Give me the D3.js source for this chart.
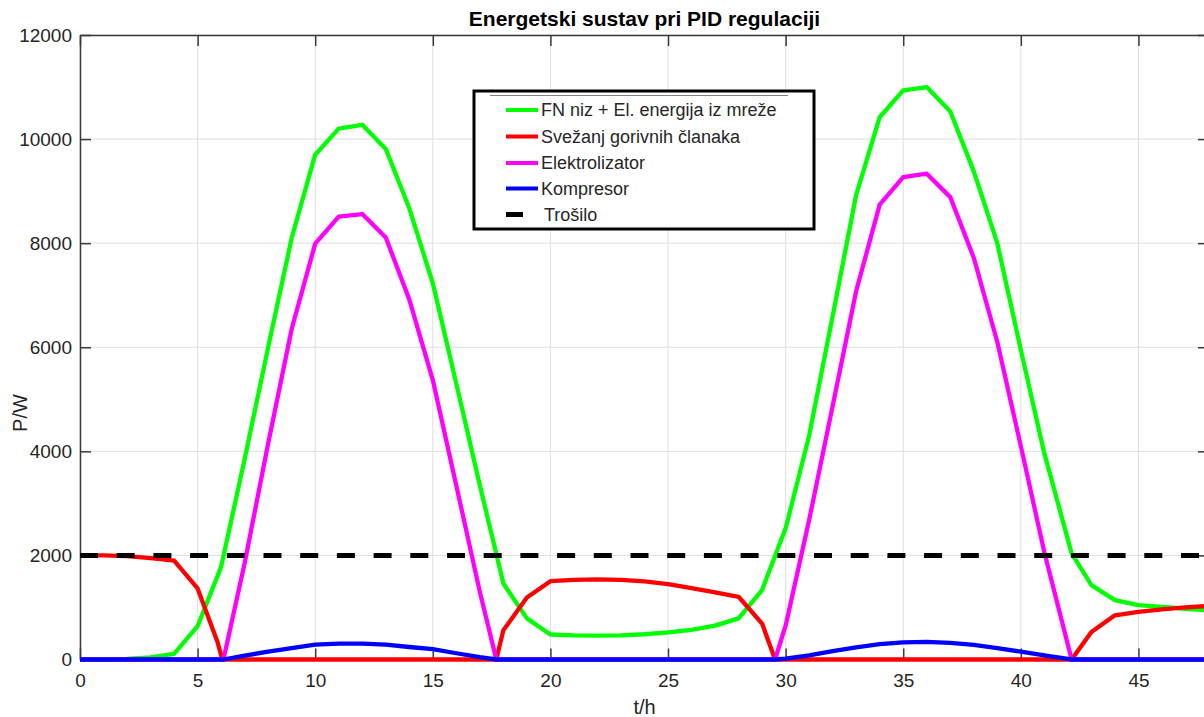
<!DOCTYPE html>
<html>
<head>
<meta charset="utf-8">
<script src="https://cdn.jsdelivr.net/npm/d3@7"></script>
<style>
  html, body { margin: 0; padding: 0; background: #fff; }
  svg { display: block; font-family: "Liberation Sans", Arial, sans-serif; }
</style>
</head>
<body>
<svg id="chart" width="1204" height="717"></svg>
<script>
// ---- data ----
const chartTitle = "Energetski sustav pri PID regulaciji";
const xLabel = "t/h";
const yLabel = "P/W";
const xTicks = [0, 5, 10, 15, 20, 25, 30, 35, 40, 45];
const yTicks = [0, 2000, 4000, 6000, 8000, 10000, 12000];
const seriesNames = ["FN niz + El. energija iz mreže", "Svežanj gorivnih članaka", "Elektrolizator", "Kompresor", "Trošilo"];

const tGreen = [0,1,2,3,4,5,6,7,8,9,10,11,12,13,14,15,16,17,18,19,20,21,22,23,24,25,26,27,28,29,30,31,32,33,34,35,36,37,38,39,40,41,42.16,43,44,45,46,47,48];
const vGreen = [0,0,10,40,110,640,1780,3850,6000,8100,9700,10200,10275,9810,8670,7230,5300,3350,1460,790,480,462,458,465,485,520,570,650,790,1335,2520,4300,6600,8930,10420,10935,11000,10530,9380,8000,5950,3960,2040,1430,1140,1045,1010,975,945];

const tRed = [0,1,2,3,4,5,5.85,6.05,17.7,18,19,20,21,22,23,24,25,26,27,28,29,29.55,42.16,43,44,45,46,47,48];
const vRed = [2000,2000,1985,1950,1900,1365,330,0,0,560,1190,1505,1530,1538,1530,1500,1450,1370,1290,1205,690,0,0,530,850,915,965,1000,1030];

const tMagenta = [0,6.1,7,8,9,10,11,12,13,14,15,16,17,17.7,29.55,30,31,32,33,34,35,36,37,38,39,40,41,42.16,48];
const vMagenta = [0,0,1850,4150,6350,7990,8510,8560,8110,6920,5370,3340,1300,0,0,650,2680,4870,7080,8740,9270,9335,8885,7720,6100,4100,2060,0,0];

const tBlue = [0,6.1,7,8,9,10,11,12,13,14,15,16,17,17.7,29.55,30,31,32,33,34,35,36,37,38,39,40,41,42,42.16,48];
const vBlue = [0,0,75,150,220,285,305,305,285,240,198,120,45,0,0,15,80,160,235,295,330,338,320,280,220,150,80,10,0,0];

const tLoad = [0, 48];
const vLoad = [2000, 2000];

const colors = ["#00ff00", "#ff0000", "#ff00ff", "#0000ff", "#000000"];

// ---- layout ----
const svg = d3.select("#chart");
const mLeft = 80, mRight = 1209, mTop = 35, mBottom = 659.5;
const x = d3.scaleLinear().domain([0, 48]).range([mLeft, mRight]);
const y = d3.scaleLinear().domain([0, 12000]).range([mBottom, mTop]);

// grid
const grid = svg.append("g");
grid.selectAll("line.gx").data(xTicks).join("line").attr("class", "gx")
  .attr("x1", d => x(d)).attr("x2", d => x(d)).attr("y1", mTop).attr("y2", mBottom)
  .attr("stroke", "#dedede").attr("stroke-width", 1);
grid.selectAll("line.gy").data(yTicks).join("line").attr("class", "gy")
  .attr("x1", mLeft).attr("x2", mRight).attr("y1", d => y(d)).attr("y2", d => y(d))
  .attr("stroke", "#dedede").attr("stroke-width", 1);

// axes
const axisColor = "#3a3a3a";
const tickLen = 11;
const xAxisB = svg.append("g").attr("transform", `translate(0,${mBottom})`)
  .call(d3.axisBottom(x).tickValues(xTicks).tickSizeInner(-tickLen).tickSizeOuter(0).tickPadding(14));
const xAxisT = svg.append("g").attr("transform", `translate(0,${mTop})`)
  .call(d3.axisTop(x).tickValues(xTicks).tickSizeInner(-tickLen).tickSizeOuter(0).tickFormat(""));
const yAxisL = svg.append("g").attr("transform", `translate(${mLeft},0)`)
  .call(d3.axisLeft(y).tickValues(yTicks).tickSizeInner(-tickLen).tickSizeOuter(0).tickPadding(8).tickFormat(d3.format("d")));
const yAxisR = svg.append("g").attr("transform", `translate(${mRight},0)`)
  .call(d3.axisRight(y).tickValues(yTicks).tickSizeInner(-tickLen).tickSizeOuter(0).tickFormat(""));
[xAxisB, xAxisT, yAxisL, yAxisR].forEach(g => {
  g.select(".domain").attr("stroke", axisColor).attr("stroke-width", 1.5);
  g.selectAll(".tick line").attr("stroke", axisColor).attr("stroke-width", 1.5);
  g.selectAll(".tick text").attr("fill", "#262626").attr("font-size", 19)
    .attr("font-family", "Liberation Sans, Arial, sans-serif");
});

// lines
const plot = svg.append("g");
const lineGen = d3.line().x(d => x(d[0])).y(d => y(d[1]));
const seriesData = [
  d3.zip(tGreen, vGreen),
  d3.zip(tRed, vRed),
  d3.zip(tMagenta, vMagenta),
  d3.zip(tBlue, vBlue)
];
seriesData.forEach((s, i) => {
  plot.append("path").datum(s).attr("d", lineGen)
    .attr("fill", "none").attr("stroke", colors[i]).attr("stroke-width", 4.3)
    .attr("stroke-linejoin", "round").attr("stroke-linecap", "butt");
});
plot.append("path").datum(d3.zip(tLoad, vLoad)).attr("d", lineGen)
  .attr("fill", "none").attr("stroke", colors[4]).attr("stroke-width", 5)
  .attr("stroke-dasharray", "18,18.7");

// title & labels
svg.append("text").attr("x", (mLeft + mRight) / 2).attr("y", 26)
  .attr("text-anchor", "middle").attr("font-weight", "bold").attr("font-size", 21)
  .attr("fill", "#000").text(chartTitle);
svg.append("text").attr("x", (mLeft + mRight) / 2).attr("y", 714)
  .attr("text-anchor", "middle").attr("font-size", 20).attr("fill", "#262626").text(xLabel);
svg.append("text").attr("transform", "translate(27,413) rotate(-90)")
  .attr("text-anchor", "middle").attr("font-size", 20).attr("fill", "#262626").text(yLabel);

// legend
const lg = svg.append("g");
lg.append("rect").attr("x", 474).attr("y", 91).attr("width", 340).attr("height", 138)
  .attr("fill", "#fff").attr("stroke", "#000").attr("stroke-width", 3);
lg.append("line").attr("x1", 490).attr("x2", 788).attr("y1", 95.5).attr("y2", 95.5)
  .attr("stroke", "#808080").attr("stroke-width", 1);
const rowY = [110, 136.5, 163, 188.5, 214.5];
seriesNames.forEach((name, i) => {
  const isLoad = i === 4;
  lg.append("line").attr("x1", 506).attr("x2", isLoad ? 523 : 538)
    .attr("y1", rowY[i]).attr("y2", rowY[i])
    .attr("stroke", colors[i]).attr("stroke-width", isLoad ? 5 : 4);
  lg.append("text").attr("x", isLoad ? 544 : 541).attr("y", rowY[i]).attr("dy", "0.35em")
    .attr("font-size", 18).attr("fill", "#262626").text(name);
});
</script>
</body>
</html>
